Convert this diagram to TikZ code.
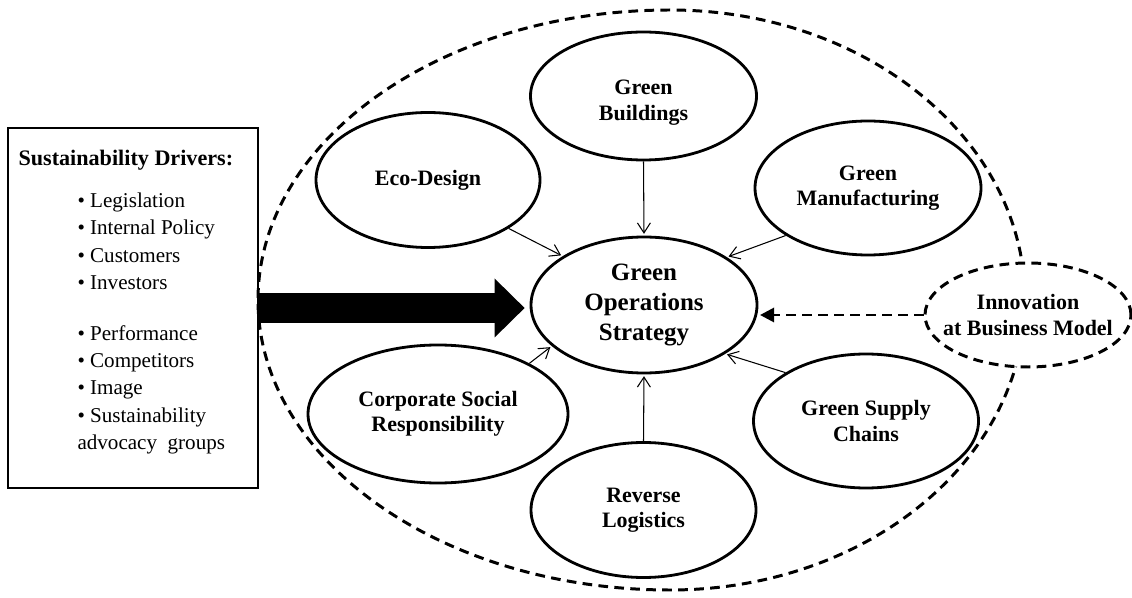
\documentclass[tikz,border=0pt]{standalone}
\usepackage{fontspec}
\setmainfont{Liberation Serif}
\usepackage {tikz}
\usetikzlibrary {shapes.geometric,arrows.meta}

\begin{document}
\begin{tikzpicture}[shorten >=1pt,->,>={Straight Barb[length=0.2cm,width=0.26cm]},line width=0.6pt]
  \tikzstyle{topic}=[ellipse, draw, fill=white, line width=1.6pt, inner sep=0pt, minimum width=4.5cm, minimum height=2.7cm, align=center, font=\fontsize{12.5}{14.5}\selectfont\bfseries]
  \tikzstyle{borderdash}=[dash pattern=on 5.5pt off 3.6pt, line width=1.7pt]
  \useasboundingbox (0,0) rectangle (22.64,-11.96);

  % outer boundary
  \draw[borderdash, -, shorten >=0pt] (13.40,-0.20) arc[start angle=90, end angle=270, x radius=8.24, y radius=5.80]
    arc[start angle=-90, end angle=90, x radius=7.10, y radius=5.80];

  \node[topic, minimum width=4.52cm, minimum height=2.72cm, font=\fontsize{14.2}{17}\selectfont\bfseries] (gos) at (12.88,-6.10) {Green\\Operations\\Strategy};
  \node[topic, minimum width=4.52cm, minimum height=2.56cm] (gb) at (12.87,-1.92) {\rule{0pt}{0.55cm}Green\\Buildings};
  \node[topic, minimum width=4.48cm] (eco) at (8.56,-3.60) {Eco-Design};
  \node[topic, minimum width=4.52cm, minimum height=2.68cm] (gm) at (17.36,-3.76) {Green\\Manufacturing};
  \node[topic, minimum width=5.2cm, minimum height=2.76cm] (csr) at (8.76,-8.28) {Corporate Social\\Responsibility};
  \node[topic] (rl) at (12.87,-10.20) {Reverse\\Logistics};
  \node[topic, minimum height=2.68cm] (gsc) at (17.32,-8.42) {Green Supply\\Chains};
  \node[topic, borderdash, minimum width=4.12cm, minimum height=2.08cm, inner xsep=-0.3cm] (inn) at (20.56,-6.30) {Innovation\\at Business Model};

  % drivers box
  \node[draw, rectangle, line width=0.75pt, minimum width=5cm, minimum height=7.2cm, inner sep=0pt] (drv) at (2.66,-6.16) {};
  \node[anchor=north west, align=left, inner sep=0pt, font=\fontsize{12}{15.5}\selectfont] (drvlist) at (0.36,-3.00) {%
    {\fontsize{12.6}{15.5}\selectfont\bfseries Sustainability Drivers:}\\[8.3pt]
    \hspace*{1.18cm}\textbullet\ Legislation\\
    \hspace*{1.18cm}\textbullet\ Internal Policy\\
    \hspace*{1.18cm}\textbullet\ Customers\\
    \hspace*{1.18cm}\textbullet\ Investors\\[13.5pt]
    \hspace*{1.18cm}\textbullet\ Performance\\
    \hspace*{1.18cm}\textbullet\ Competitors\\
    \hspace*{1.18cm}\textbullet\ Image\\
    \hspace*{1.18cm}\textbullet\ Sustainability\\
    \hspace*{1.18cm}advocacy\ \ groups};

  \draw[-{Triangle[length=0.6cm,width=1.18cm,line width=0pt]}, line width=0.6cm, shorten >=0.1cm] (drv.east) -- (drv.east -| gos.west);
  \draw[borderdash, -{Triangle[length=0.28cm,width=0.3cm,line width=0pt]}] (inn.west) -- (inn.west -| gos.east);

  \draw (eco.329) -- (gos.149);
  \draw (gb.south) -- (gos.north);
  \draw (gm.210) -- (gos.30);
  \draw (csr.29) -- (gos.204);
  \draw (rl.north) -- (gos.south);
  \draw (gsc.149) -- (gos.329);
\end{tikzpicture}
\end{document}
